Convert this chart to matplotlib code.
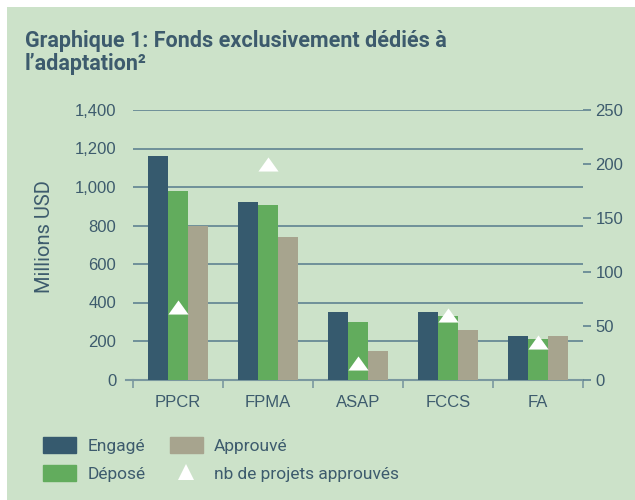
import numpy as np
import matplotlib.pyplot as plt
from matplotlib.lines import Line2D
from matplotlib.patches import Patch

# données (millions USD) et nombre de projets approuvés
categories = ['PPCR', 'FPMA', 'ASAP', 'FCCS', 'FA']
engage = [1160, 920, 350, 350, 225]
depose = [980, 905, 300, 330, 210]
approuve = [800, 740, 150, 257, 225]
nb_projets = [67, 200, 15, 60, 35]

left_ticks = [0, 200, 400, 600, 800, 1000, 1200, 1400]
right_ticks = [0, 50, 100, 150, 200, 250]

bg = '#cce2c9'
txt = '#3d5b6d'
c_engage = '#365a6e'
c_depose = '#62ac5d'
c_approuve = '#a7a48e'
c_grid = '#5f8391'

plt.rcParams['font.family'] = ['Liberation Sans', 'DejaVu Sans']
narrow = ['Roboto', 'DejaVu Sans']

fig = plt.figure(figsize=(6.35, 5.0), dpi=100)
# marge blanche en haut/gauche, fond vert ailleurs
fig.patch.set_facecolor('white')
fig.patches.append(plt.Rectangle((7/635, 0), 1, 1 - 7/500, transform=fig.transFigure,
                                 facecolor=bg, edgecolor='none', zorder=-10))

ax = fig.add_axes([133/635, 1 - 379.5/500, 450/635, 269.5/500])
ax.set_facecolor('none')

x = np.arange(len(categories))
w = 0.225
ax.bar(x - w, engage, w, color=c_engage, zorder=3)
ax.bar(x, depose, w, color=c_depose, zorder=3)
ax.bar(x + w, approuve, w, color=c_approuve, zorder=3)

ax.set_xlim(-0.5, 4.5)
ax.set_ylim(0, 1400)
ax.set_yticks(left_ticks)
ax.set_yticklabels([f'{v:,}' for v in left_ticks])
ax.grid(axis='y', color=c_grid, linewidth=1.2, zorder=0)
ax.set_axisbelow(True)

ax.set_xticks(x)
ax.set_xticklabels(categories)
ax.set_xticks(np.arange(-0.5, 5, 1), minor=True)
ax.tick_params(axis='x', which='major', length=0, pad=11, labelsize=12, colors=txt)
ax.tick_params(axis='x', which='minor', length=6, width=1.2, color='#7a989f', direction='out')
ax.tick_params(axis='y', length=0, pad=12, labelsize=12, colors=txt)
for s in ['top', 'right', 'left']:
    ax.spines[s].set_visible(False)
ax.spines['bottom'].set_color('#7a989f')
ax.spines['bottom'].set_linewidth(1.5)
ax.plot([-0.58, -0.5], [0, 0], color='#7a989f', lw=1.5, clip_on=False)

# axe de droite : nb de projets
ax2 = ax.twinx()
tri = [(-1, -0.7), (1, -0.7), (0, 0.7), (-1, -0.7)]
ax2.plot(x, nb_projets, linestyle='none', marker=tri, markersize=14.5,
         color='white', markeredgewidth=0, zorder=5)
ax2.set_ylim(0, 250)
ax2.set_yticks(right_ticks)
ax2.tick_params(axis='y', length=6, width=1.2, color=c_grid, pad=3, labelsize=12, colors=txt)
for s in ['top', 'right', 'left', 'bottom']:
    ax2.spines[s].set_visible(False)

fig.text(44/635, 1 - 236.5/500, 'Millions USD', rotation=90, ha='center', va='center',
         fontsize=14.5, color=txt, family=narrow)

fig.text(25/635, 1 - 30/500, 'Graphique 1: Fonds exclusivement dédiés à\nl’adaptation²',
         ha='left', va='top', fontsize=15.5, fontweight='bold', color=txt,
         family=narrow, linespacing=1.05)

handles = [Patch(color=c_engage), Patch(color=c_depose), Patch(color=c_approuve),
           Line2D([], [], linestyle='none', marker='^', markersize=11,
                  color='white', markeredgewidth=0)]
labels = ['Engagé', 'Déposé', 'Approuvé', 'nb de projets approuvés']
leg = fig.legend(handles, labels, ncol=2, loc='upper left',
                 bbox_to_anchor=(43/635, 1 - 437/500), frameon=False,
                 prop={'family': narrow, 'size': 12.5}, handlelength=1.9,
                 handleheight=1.0, handletextpad=0.65, columnspacing=1.4,
                 labelspacing=0.65, borderpad=0, borderaxespad=0)
for t in leg.get_texts():
    t.set_color(txt)

plt.savefig('out.png', dpi=100, facecolor=fig.get_facecolor())
